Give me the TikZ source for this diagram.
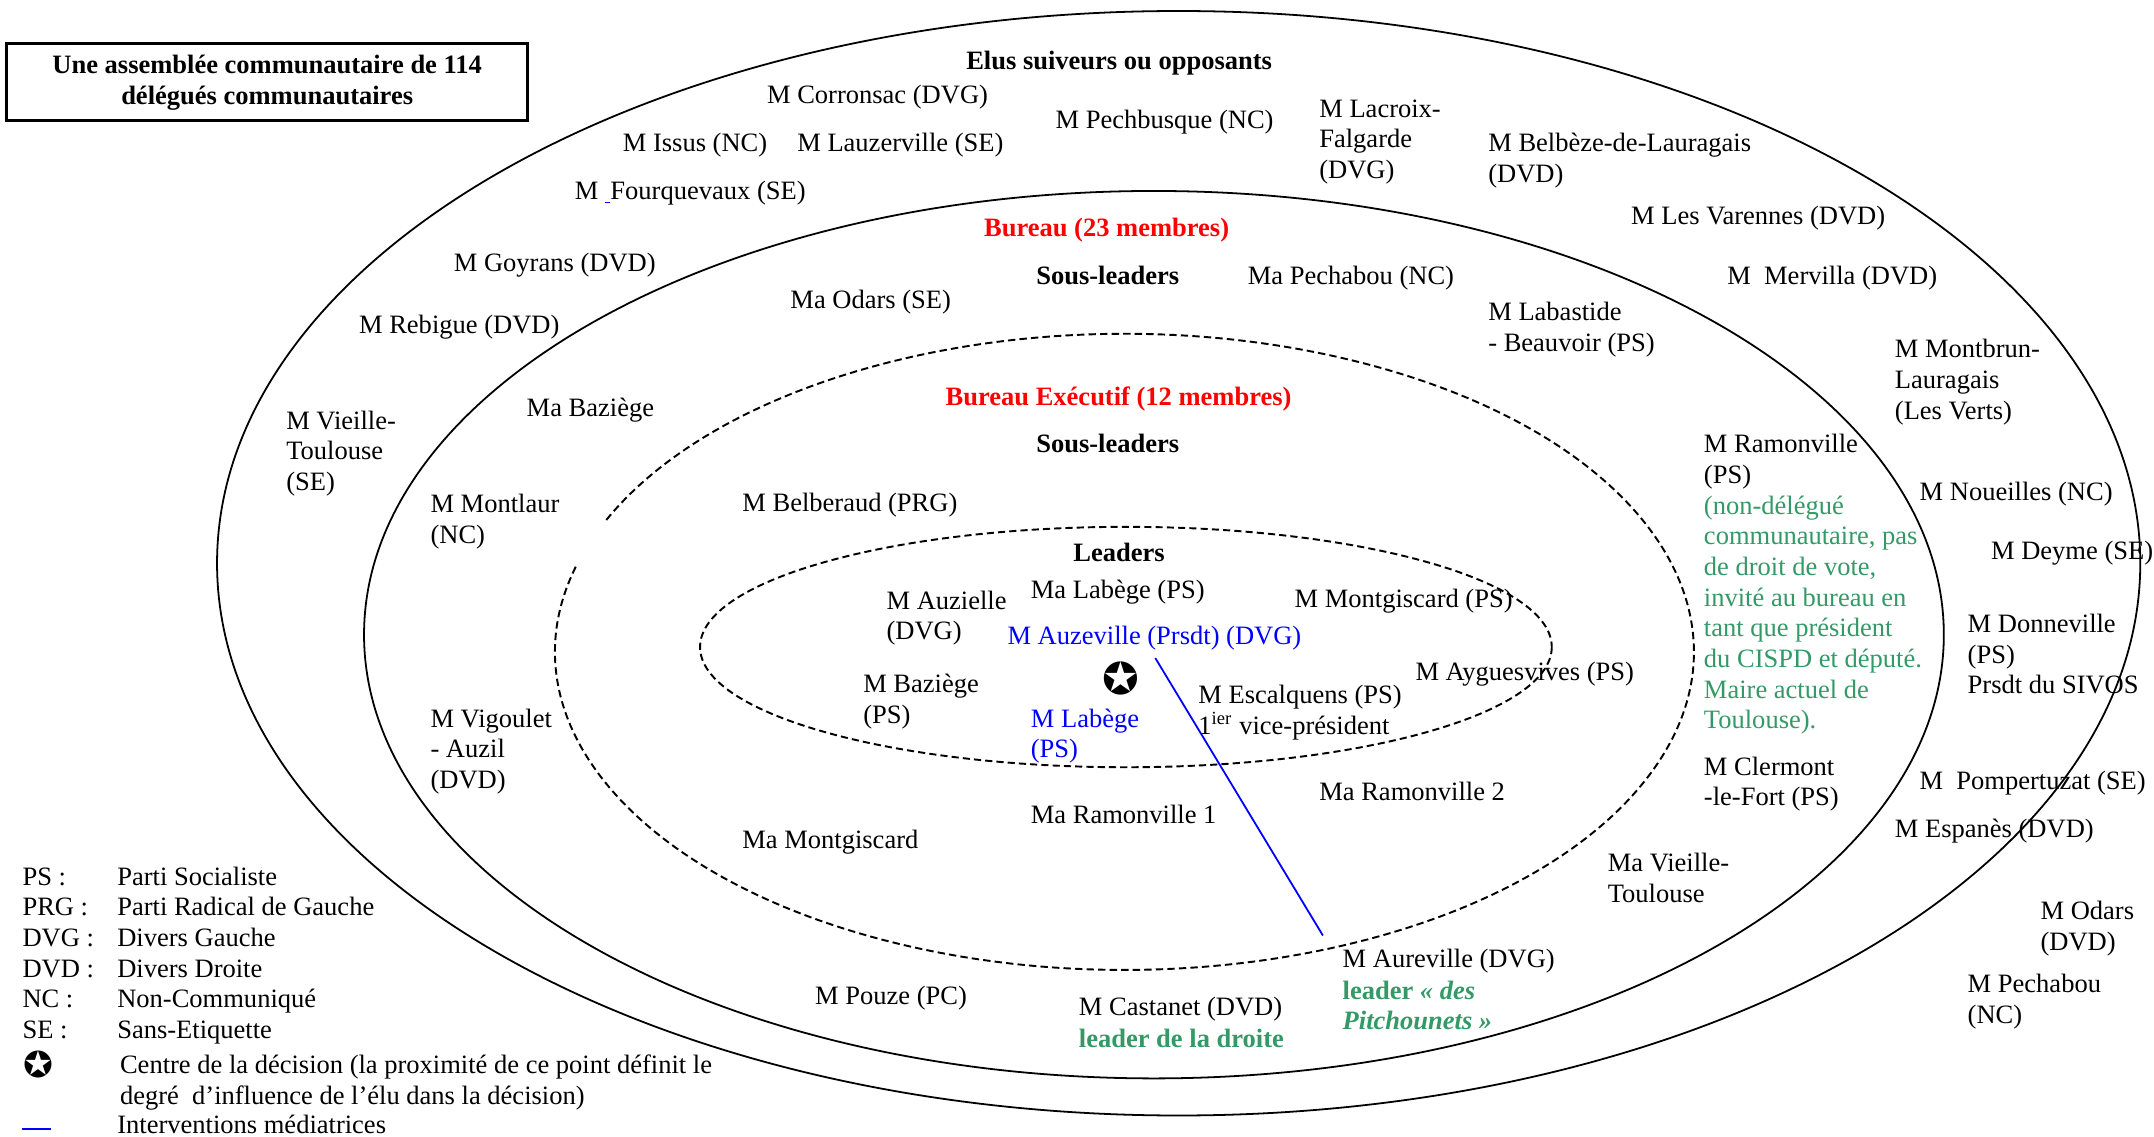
\documentclass[tikz,border=0pt]{standalone}
\usepackage{fontspec}
\setmainfont{Liberation Serif}
\newfontfamily\symfont{DejaVu Sans}
\definecolor{sea}{HTML}{339966}
\newcommand\mystrut{\vrule height 7.8pt depth 0pt width 0pt}
\begin{document}
\begin{tikzpicture}[x=0.5pt,y=-0.5pt,
  lbl/.style={anchor=north west, inner sep=0pt, align=left, font=\fontsize{9.65}{11.15}\selectfont, yshift=4.8pt},
  hd/.style={lbl, font=\fontsize{9.65}{11.15}\selectfont\bfseries},
  redhd/.style={hd, text=red},
  grn/.style={lbl, text=sea},
  grnb/.style={hd, text=sea},
  blu/.style={lbl, text=blue},
  ring/.style={line width=0.65pt},
  dashA/.style={line width=0.7pt, dash pattern=on 2.7pt off 1.5pt},
  dashB/.style={line width=0.7pt, dash pattern=on 2.6pt off 1.5pt},
  med/.style={blue, line width=0.65pt},
  starsym/.style={inner sep=0pt, font=\symfont\fontsize{16}{16}\selectfont}]
\useasboundingbox (0,0) rectangle (1568,827);

% rings
\draw[ring] (858,410) ellipse [x radius=700, y radius=402];
\draw[ring] (840,462) ellipse [x radius=575, y radius=323];
\draw[dashA] (818.5,474.5) ++(204.5:414.5 and 231.5) arc [start angle=204.5, end angle=556.2, x radius=414.5, y radius=231.5];
\draw[dashB] (819.6,471) ellipse [x radius=310, y radius=87.5];

% title box
\node[draw, line width=1.1pt, minimum width=189.5pt, minimum height=28pt, inner sep=0pt, align=center,
      font=\fontsize{9.65}{11.15}\selectfont\bfseries] (titlebox) at (194.5,60)
      {Une assemblée communautaire de 114\\délégués communautaires};

% outer ring
\node[hd] (elus) at (703,44) {\mystrut Elus suiveurs ou opposants};
\node[lbl] (corronsac) at (558,69) {\mystrut M Corronsac (DVG)};
\node[lbl] (pechbusque) at (768,87) {\mystrut M Pechbusque (NC)};
\node[lbl] (lacroix) at (960,79) {\mystrut M Lacroix-\\Falgarde\\(DVG)};
\node[lbl] (belbeze) at (1083,104) {\mystrut M Belbèze-de-Lauragais\\(DVD)};
\node[lbl] (issus) at (453,104) {\mystrut M Issus (NC)};
\node[lbl] (lauzerville) at (580,104) {\mystrut M Lauzerville (SE)};
\node[lbl] (fourquevaux) at (418,139) {\mystrut M {\color{blue}\rule[-1.2pt]{2pt}{0.5pt}}Fourquevaux (SE)};
\node[lbl] (varennes) at (1187,157) {\mystrut M Les Varennes (DVD)};
\node[lbl] (goyrans) at (330,191) {\mystrut M Goyrans (DVD)};
\node[lbl] (mervilla) at (1257,201) {\mystrut M~~Mervilla (DVD)};
\node[lbl] (rebigue) at (261,236) {\mystrut M Rebigue (DVD)};
\node[lbl] (montbrun) at (1379,254) {\mystrut M Montbrun-\\Lauragais\\(Les Verts)};
\node[lbl] (vieille) at (208,306) {\mystrut M Vieille-\\Toulouse\\(SE)};
\node[lbl] (noueilles) at (1397,358) {\mystrut M Noueilles (NC)};
\node[lbl] (deyme) at (1449,401) {\mystrut M Deyme (SE)};
\node[lbl] (donneville) at (1432,454) {\mystrut M Donneville\\(PS)\\Prsdt du SIVOS};
\node[lbl] (pompertuzat) at (1397,568) {\mystrut M~~Pompertuzat (SE)};
\node[lbl] (espanes) at (1379,603) {\mystrut M Espanès (DVD)};
\node[lbl] (odars) at (1485,663) {\mystrut M Odars\\(DVD)};
\node[lbl] (pechabou) at (1432,716) {\mystrut M Pechabou\\(NC)};

% bureau ring
\node[redhd] (bureau) at (716,166) {\mystrut Bureau (23 membres)};
\node[hd] (sousA) at (754,201) {\mystrut Sous-leaders};
\node[lbl] (maPechabou) at (908,201) {\mystrut Ma Pechabou (NC)};
\node[lbl] (maOdars) at (575,218) {\mystrut Ma Odars (SE)};
\node[lbl] (labastide) at (1083,227) {\mystrut M Labastide\\- Beauvoir (PS)};
\node[lbl] (maBaziege) at (383,297) {\mystrut Ma Baziège};
\node[lbl] (ramonville) at (1240,323) {\mystrut M Ramonville\\(PS)};
\node[grn] (ramNote) at (1240,368) {\mystrut (non-délégué\\communautaire, pas\\de droit de vote,\\invité au bureau en\\tant que président\\du CISPD et député.\\Maire actuel de\\Toulouse).};
\node[lbl] (montlaur) at (313,367) {\mystrut M Montlaur\\(NC)};
\node[lbl] (vigoulet) at (313,523) {\mystrut M Vigoulet\\- Auzil\\(DVD)};
\node[lbl] (clermont) at (1240,558) {\mystrut M Clermont\\-le-Fort (PS)};
\node[lbl] (maVieille) at (1170,628) {\mystrut Ma Vieille-\\Toulouse};
\node[lbl] (aureville) at (977,698) {\mystrut M Aureville (DVG)};
\node[grnb] (aurNote) at (977,721) {\mystrut leader \textit{«~des}\\\textit{Pitchounets~»}};
\node[lbl] (pouze) at (593,725) {\mystrut M Pouze (PC)};
\node[lbl] (castanet) at (785,733) {\mystrut M Castanet (DVD)};
\node[grnb] (castNote) at (785,756) {\mystrut leader de la droite};

% executive ring
\node[redhd] (bexec) at (688,289) {\mystrut Bureau Exécutif (12 membres)};
\node[hd] (sousB) at (754,323) {\mystrut Sous-leaders};
\node[lbl] (belberaud) at (540,366) {\mystrut M Belberaud (PRG)};
\node[lbl] (maRam2) at (960,576) {\mystrut Ma Ramonville 2};
\node[lbl] (maRam1) at (750,593) {\mystrut Ma Ramonville 1};
\node[lbl] (maMontgiscard) at (540,611) {\mystrut Ma Montgiscard};
\node[lbl] (ayguesvives) at (1030,489) {\mystrut M Ayguesvives (PS)};

% leaders
\node[hd] (leaders) at (781,402) {\mystrut Leaders};
\node[lbl] (maLabege) at (750,429) {\mystrut Ma Labège (PS)};
\node[lbl] (auzielle) at (645,437) {\mystrut M Auzielle\\(DVG)};
\node[lbl] (montgiscard) at (942,436) {\mystrut M Montgiscard (PS)};
\node[blu] (auzeville) at (733,463) {\mystrut M Auzeville (Prsdt) (DVG)};
\node[lbl] (baziege) at (628,498) {\mystrut M Baziège\\(PS)};
\node[lbl] (escalquens) at (872,506) {\mystrut M Escalquens (PS)\\1\textsuperscript{ier} vice-président};
\node[blu] (labege) at (750,523) {\mystrut M Labège\\(PS)};
\node[starsym] (star) at (816,494) {✪};

% mediation line
\coordinate (medA) at (841,479);
\coordinate (medB) at (963,681);
\draw[med] (medA) -- (medB);

% legend
\node[lbl] (abbr) at (16,638) {\mystrut PS :\\PRG :\\DVG :\\DVD :\\NC :\\SE :};
\node[lbl] (meaning) at (85,638) {\mystrut Parti Socialiste\\Parti Radical de Gauche\\Divers Gauche\\Divers Droite\\Non-Communiqué\\Sans-Etiquette};
\node[starsym, font=\symfont\fontsize{13}{13}\selectfont] (legStar) at (28,775) {✪};
\node[lbl] (legStarTxt) at (87,775) {\mystrut Centre de la décision (la proximité de ce point définit le\\degré~~d’influence de l’élu dans la décision)};
\coordinate (legA) at (16,822);
\coordinate (legB) at (37,822);
\draw[med] (legA) -- (legB);
\node[lbl] (legMed) at (85,819) {\mystrut Interventions médiatrices};
\end{tikzpicture}
\end{document}
